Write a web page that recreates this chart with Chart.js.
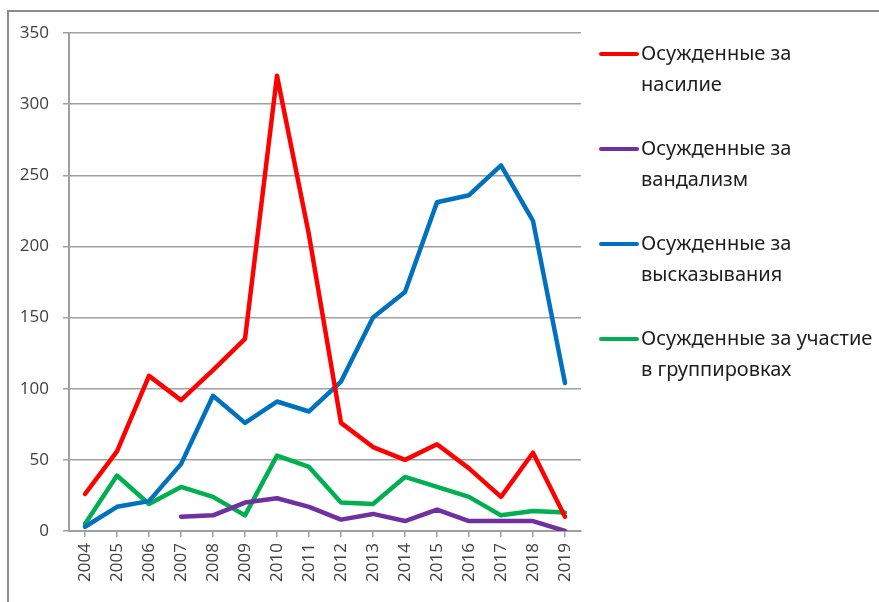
<!DOCTYPE html>
<html>
<head>
<meta charset="utf-8">
<script src="https://cdn.jsdelivr.net/npm/chart.js@4"></script>
<style>
  html, body { margin: 0; padding: 0; background: #fff; }
  #wrap { width: 879px; height: 602px; position: relative; }
</style>
</head>
<body>
<div id="wrap"><canvas id="chart"></canvas></div>
<script>
const years = ["2004", "2005", "2006", "2007", "2008", "2009", "2010", "2011",
  "2012", "2013", "2014", "2015", "2016", "2017", "2018", "2019"];

const violence = [26, 56, 109, 92, 113, 135, 320, 208, 76, 59, 50, 61, 44, 24, 55, 10];
const vandalism = [null, null, null, 10, 11, 20, 23, 17, 8, 12, 7, 15, 7, 7, 7, 0];
const statements = [3, 17, 21, 47, 95, 76, 91, 84, 105, 150, 168, 231, 236, 257, 218, 104];
const groups = [5, 39, 19, 31, 24, 11, 53, 45, 20, 19, 38, 31, 24, 11, 14, 13];

const seriesNames = [
  ["Осужденные за", "насилие"],
  ["Осужденные за", "вандализм"],
  ["Осужденные за", "высказывания"],
  ["Осужденные за участие", "в группировках"]
];
const seriesColors = ["#FF0000", "#7030A0", "#0070C0", "#00B050"];
const yTicks = [0, 50, 100, 150, 200, 250, 300, 350];

const gridGray = "#a0a0a0";
const textGray = "#404040";

// рамка вокруг диаграммы
const framePlugin = {
  id: "frame",
  beforeDraw(chart) {
    const ctx = chart.ctx;
    ctx.save();
    ctx.strokeStyle = "#8c8c8c";
    ctx.lineWidth = 2;
    ctx.strokeRect(8, 11, 1000, 1000);
    ctx.restore();
  }
};

// легенда справа, в две строки
const sideLegend = {
  id: "sideLegend",
  afterDraw(chart) {
    const ctx = chart.ctx;
    ctx.save();
    ctx.font = '20px "Noto Sans"';
    ctx.textBaseline = "middle";
    chart.data.datasets.forEach((ds, i) => {
      const y = 54 + i * 95;
      ctx.strokeStyle = ds.borderColor;
      ctx.lineWidth = 4;
      ctx.lineCap = "round";
      ctx.beginPath();
      ctx.moveTo(601, y);
      ctx.lineTo(637, y);
      ctx.stroke();
      ctx.fillStyle = "#1e1e1e";
      seriesNames[i].forEach((line, j) => {
        ctx.fillText(line, 641, y + j * 31);
      });
    });
    ctx.restore();
  }
};

const makeSet = (i, data) => ({
  label: seriesNames[i].join(" "),
  data,
  borderColor: seriesColors[i],
  backgroundColor: seriesColors[i],
  borderWidth: 4.5,
  borderCapStyle: "round",
  borderJoinStyle: "round",
  pointRadius: 0,
  tension: 0,
  spanGaps: false
});

new Chart(document.getElementById("chart").getContext("2d"), {
  type: "line",
  data: {
    labels: years,
    datasets: [
      makeSet(0, violence),
      makeSet(1, vandalism),
      makeSet(2, statements),
      makeSet(3, groups)
    ]
  },
  options: {
    responsive: true,
    maintainAspectRatio: false,
    animation: false,
    layout: {
      padding: { left: 10, right: 298, top: 33, bottom: 10 }
    },
    scales: {
      x: {
        offset: true,
        border: { display: true, color: gridGray, width: 2 },
        grid: {
          drawOnChartArea: false,
          drawTicks: true,
          tickLength: 6,
          color: gridGray,
          lineWidth: 1.5
        },
        ticks: {
          color: textGray,
          minRotation: 90,
          maxRotation: 90,
          autoSkip: false,
          padding: 6,
          font: { family: '"Open Sans"', size: 17 }
        },
        afterFit(scale) { scale.height = 61; }
      },
      y: {
        min: 0,
        max: 350,
        afterBuildTicks(scale) {
          scale.ticks = yTicks.map(v => ({ value: v }));
        },
        border: { display: true, color: gridGray, width: 2 },
        grid: {
          color: gridGray,
          lineWidth: 1.5,
          tickLength: 6
        },
        ticks: {
          color: textGray,
          padding: 14,
          font: { family: '"Open Sans"', size: 17 }
        },
        afterFit(scale) { scale.width = 59; }
      }
    },
    plugins: {
      legend: { display: false },
      tooltip: { enabled: false }
    }
  },
  plugins: [framePlugin, sideLegend]
});
</script>
</body>
</html>
